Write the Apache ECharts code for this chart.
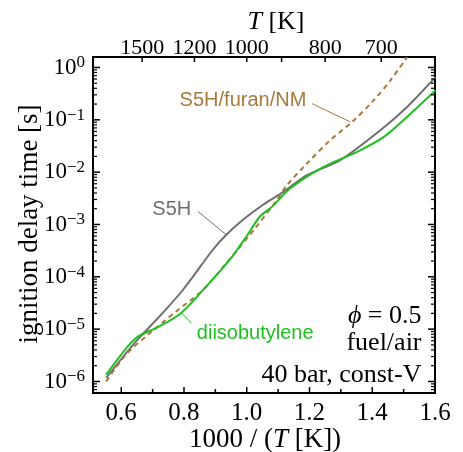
<!DOCTYPE html>
<html lang="en">
<head>
<meta charset="UTF-8">
<title>ignition delay time</title>
<style>
  html, body { margin: 0; padding: 0; background: #fff; }
  #chart { width: 463px; height: 452px; }
</style>
<script src="https://cdn.jsdelivr.net/npm/echarts@6/dist/echarts.min.js"></script>
</head>
<body>
<div id="chart"></div>
<script>
// x = 1000 / (T [K]),  tau = ignition delay time [s]
var s5hX   = [0.552, 0.647, 0.722, 0.797, 0.892, 0.935, 0.988, 1.052, 1.117, 1.192, 1.298, 1.426, 1.511, 1.602];
var s5hTau = [1.17e-6, 5.85e-6, 1.75e-5, 5.66e-5, 3.29e-4, 6.35e-4, 1.23e-3, 2.38e-3, 4.21e-3, 8.75e-3, 1.69e-2, 6.32e-2, 0.176, 0.658];

var dibX   = [0.552, 0.600, 0.647, 0.722, 0.791, 0.871, 0.946, 0.999, 1.042, 1.080, 1.138, 1.245, 1.352, 1.437, 1.522, 1.602];
var dibTau = [1.35e-6, 3.26e-6, 6.79e-6, 1.13e-5, 2.04e-5, 6.55e-5, 2.12e-4, 5.90e-4, 1.42e-3, 2.17e-3, 4.86e-3, 1.26e-2, 2.44e-2, 4.71e-2, 0.131, 0.367];

var mixX   = [0.552, 0.615, 0.679, 0.775, 0.861, 0.935, 1.031, 1.096, 1.128, 1.192, 1.266, 1.336, 1.405, 1.458, 1.511];
var mixTau = [1.0e-6, 3.26e-6, 7.28e-6, 2.18e-5, 5.66e-5, 1.83e-4, 9.14e-4, 2.92e-3, 5.65e-3, 1.46e-2, 4.07e-2, 9.12e-2, 0.237, 0.569, 1.58];

var xLabels = [0.6, 0.8, 1.0, 1.2, 1.4, 1.6];
var xMinor  = [0.7, 0.9, 1.1, 1.3, 1.5];
var tLabels = [1500, 1200, 1000, 800, 700];
var tTicks  = [1500, 1200, 1000, 900, 800, 700];
var yDecades = [-6, -5, -4, -3, -2, -1, 0];

var X_MIN = 0.51, X_MAX = 1.6;
var Y_MIN = -6.22, Y_MAX = 0.2;

var SERIF = 'Liberation Serif';
var SANS = 'Liberation Sans';
var GRAY = '#6f6f6f', GREEN = '#1fbf1f', BROWN = '#a8793a';

function pairs(xs, ts) {
  return xs.map(function (x, i) { return [x, Math.log10(ts[i])]; });
}

var yMinor = [];
for (var n = -7; n <= 0; n++) {
  for (var k = 2; k <= 9; k++) {
    var v = n + Math.log10(k);
    if (v > Y_MIN && v < Y_MAX) yMinor.push(v);
  }
}

var chart = echarts.init(document.getElementById('chart'));

chart.setOption({
  animation: false,
  grid: { left: 93, right: 28, top: 57, bottom: 59, show: true, borderColor: '#000', borderWidth: 2, backgroundColor: 'transparent' },
  xAxis: [
    {
      type: 'value', min: X_MIN, max: X_MAX, position: 'bottom',
      axisLine: { show: false, onZero: false }, splitLine: { show: false },
      axisTick: { show: false },
      axisLabel: { show: true, margin: 8, color: '#000', fontFamily: SERIF, fontSize: 25, customValues: xLabels,
        formatter: function (v) { return v.toFixed(1); } }
    },
    {
      type: 'value', min: X_MIN, max: X_MAX, position: 'top',
      axisLine: { show: false, onZero: false }, splitLine: { show: false },
      axisTick: { show: false },
      axisLabel: { show: true, margin: -2, color: '#000', fontFamily: SERIF, fontSize: 22,
        customValues: tLabels.map(function (t) { return 1000 / t; }),
        formatter: function (v) { return String(Math.round(1000 / v)); } }
    }
  ],
  yAxis: [
    {
      type: 'value', min: Y_MIN, max: Y_MAX, position: 'left',
      axisLine: { show: false, onZero: false }, splitLine: { show: false },
      axisTick: { show: false },
      axisLabel: { show: true, margin: 8, customValues: yDecades,
        formatter: function (v) {
          var e = Math.round(v);
          return '{b|10}{s|' + (e < 0 ? '\u2212' + (-e) : e) + '}';
        },
        rich: {
          b: { fontFamily: SERIF, fontSize: 23, color: '#000', lineHeight: 26 },
          s: { fontFamily: SERIF, fontSize: 17, color: '#000', verticalAlign: 'top', lineHeight: 17 }
        } }
    }
  ],
  series: [
    { name: 'S5H/furan/NM', type: 'line', data: pairs(mixX, mixTau), smooth: 0.3, showSymbol: false,
      lineStyle: { color: BROWN, width: 2, type: [5, 4] }, z: 3 },
    { name: 'S5H', type: 'line', data: pairs(s5hX, s5hTau), smooth: 0.3, showSymbol: false,
      lineStyle: { color: GRAY, width: 2 }, z: 2 },
    { name: 'diisobutylene', type: 'line', data: pairs(dibX, dibTau), smooth: 0.3, showSymbol: false,
      lineStyle: { color: GREEN, width: 2 }, z: 4 }
  ]
});

// annotations and ticks, placed in data coordinates through the chart's scales
function px(x, y) { return chart.convertToPixel({ xAxisIndex: 0, yAxisIndex: 0 }, [x, y]); }

var labels = [
  { text: 'S5H/furan/NM', at: [0.988, -0.64], color: BROWN, from: [1.208, -0.691], to: [1.330, -1.04] },
  { text: 'S5H', at: [0.761, -2.72], color: GRAY, from: [0.8445, -2.752], to: [0.935, -3.197] },
  { text: 'diisobutylene', at: [1.027, -5.086], color: GREEN, from: [0.824, -4.886], to: [0.792, -4.691] }
];
var notes = [
  { text: '{i|\u03d5} = 0.5', at: [1.557, -4.76] },
  { text: 'fuel/air', at: [1.557, -5.26] },
  { text: '40 bar, const-V', at: [1.557, -5.87] }
];

var g = [];
labels.forEach(function (l) {
  var p = px(l.at[0], l.at[1]), a = px(l.from[0], l.from[1]), b = px(l.to[0], l.to[1]);
  g.push({ type: 'text', x: p[0], y: p[1], z: 10,
    style: { text: l.text, fill: l.color, font: '20px "' + SANS + '"', align: 'center', verticalAlign: 'middle' } });
  g.push({ type: 'line', z: 10, shape: { x1: a[0], y1: a[1], x2: b[0], y2: b[1] }, style: { stroke: l.color, lineWidth: 1 } });
});
notes.forEach(function (n) {
  var p = px(n.at[0], n.at[1]);
  g.push({ type: 'text', x: p[0], y: p[1], z: 10,
    style: { text: n.text, fill: '#000', font: '26px "' + SERIF + '"', align: 'right', verticalAlign: 'middle',
      rich: { i: { font: 'italic 26px "' + SERIF + '"', fill: '#000' } } } });
});

// inward ticks on all four sides
var corner = px(X_MIN, Y_MIN), corner2 = px(X_MAX, Y_MAX);
var leftX = corner[0], bottomY = corner[1], rightX = corner2[0], topY = corner2[1];
function tick(x1, y1, x2, y2, w) {
  g.push({ type: 'line', z: 20, shape: { x1: x1, y1: y1, x2: x2, y2: y2 }, style: { stroke: '#000', lineWidth: w } });
}
xLabels.forEach(function (x) { var p = px(x, Y_MIN)[0]; tick(p, bottomY, p, bottomY - 6, 1.5); });
xMinor.forEach(function (x) { var p = px(x, Y_MIN)[0]; tick(p, bottomY, p, bottomY - 4, 1.5); });
tTicks.forEach(function (t) { var p = px(1000 / t, Y_MIN)[0]; tick(p, topY, p, topY + 5, 1.5); });
yDecades.forEach(function (y) {
  var p = px(X_MIN, y)[1];
  tick(leftX, p, leftX + 7, p, 1.5);
  tick(rightX, p, rightX - 7, p, 1.5);
});
yMinor.forEach(function (y) {
  var p = px(X_MIN, y)[1];
  tick(leftX, p, leftX + 4, p, 1.2);
  tick(rightX, p, rightX - 4, p, 1.2);
});

// axis titles
g.push({ type: 'text', x: 30, y: 224, rotation: Math.PI / 2, z: 10,
  style: { text: 'ignition delay time [s]', fill: '#000', font: '27px "' + SERIF + '"', align: 'center', verticalAlign: 'middle' } });
g.push({ type: 'text', x: 265, y: 440, z: 10,
  style: { text: '1000 / ({i|T} [K])', fill: '#000', font: '27px "' + SERIF + '"', align: 'center', verticalAlign: 'middle',
    rich: { i: { font: 'italic 27px "' + SERIF + '"', fill: '#000' } } } });
g.push({ type: 'text', x: 276, y: 22, z: 10,
  style: { text: '{i|T} [K]', fill: '#000', font: '26px "' + SERIF + '"', align: 'center', verticalAlign: 'middle',
    rich: { i: { font: 'italic 26px "' + SERIF + '"', fill: '#000' } } } });

chart.setOption({ graphic: g });
</script>
</body>
</html>
